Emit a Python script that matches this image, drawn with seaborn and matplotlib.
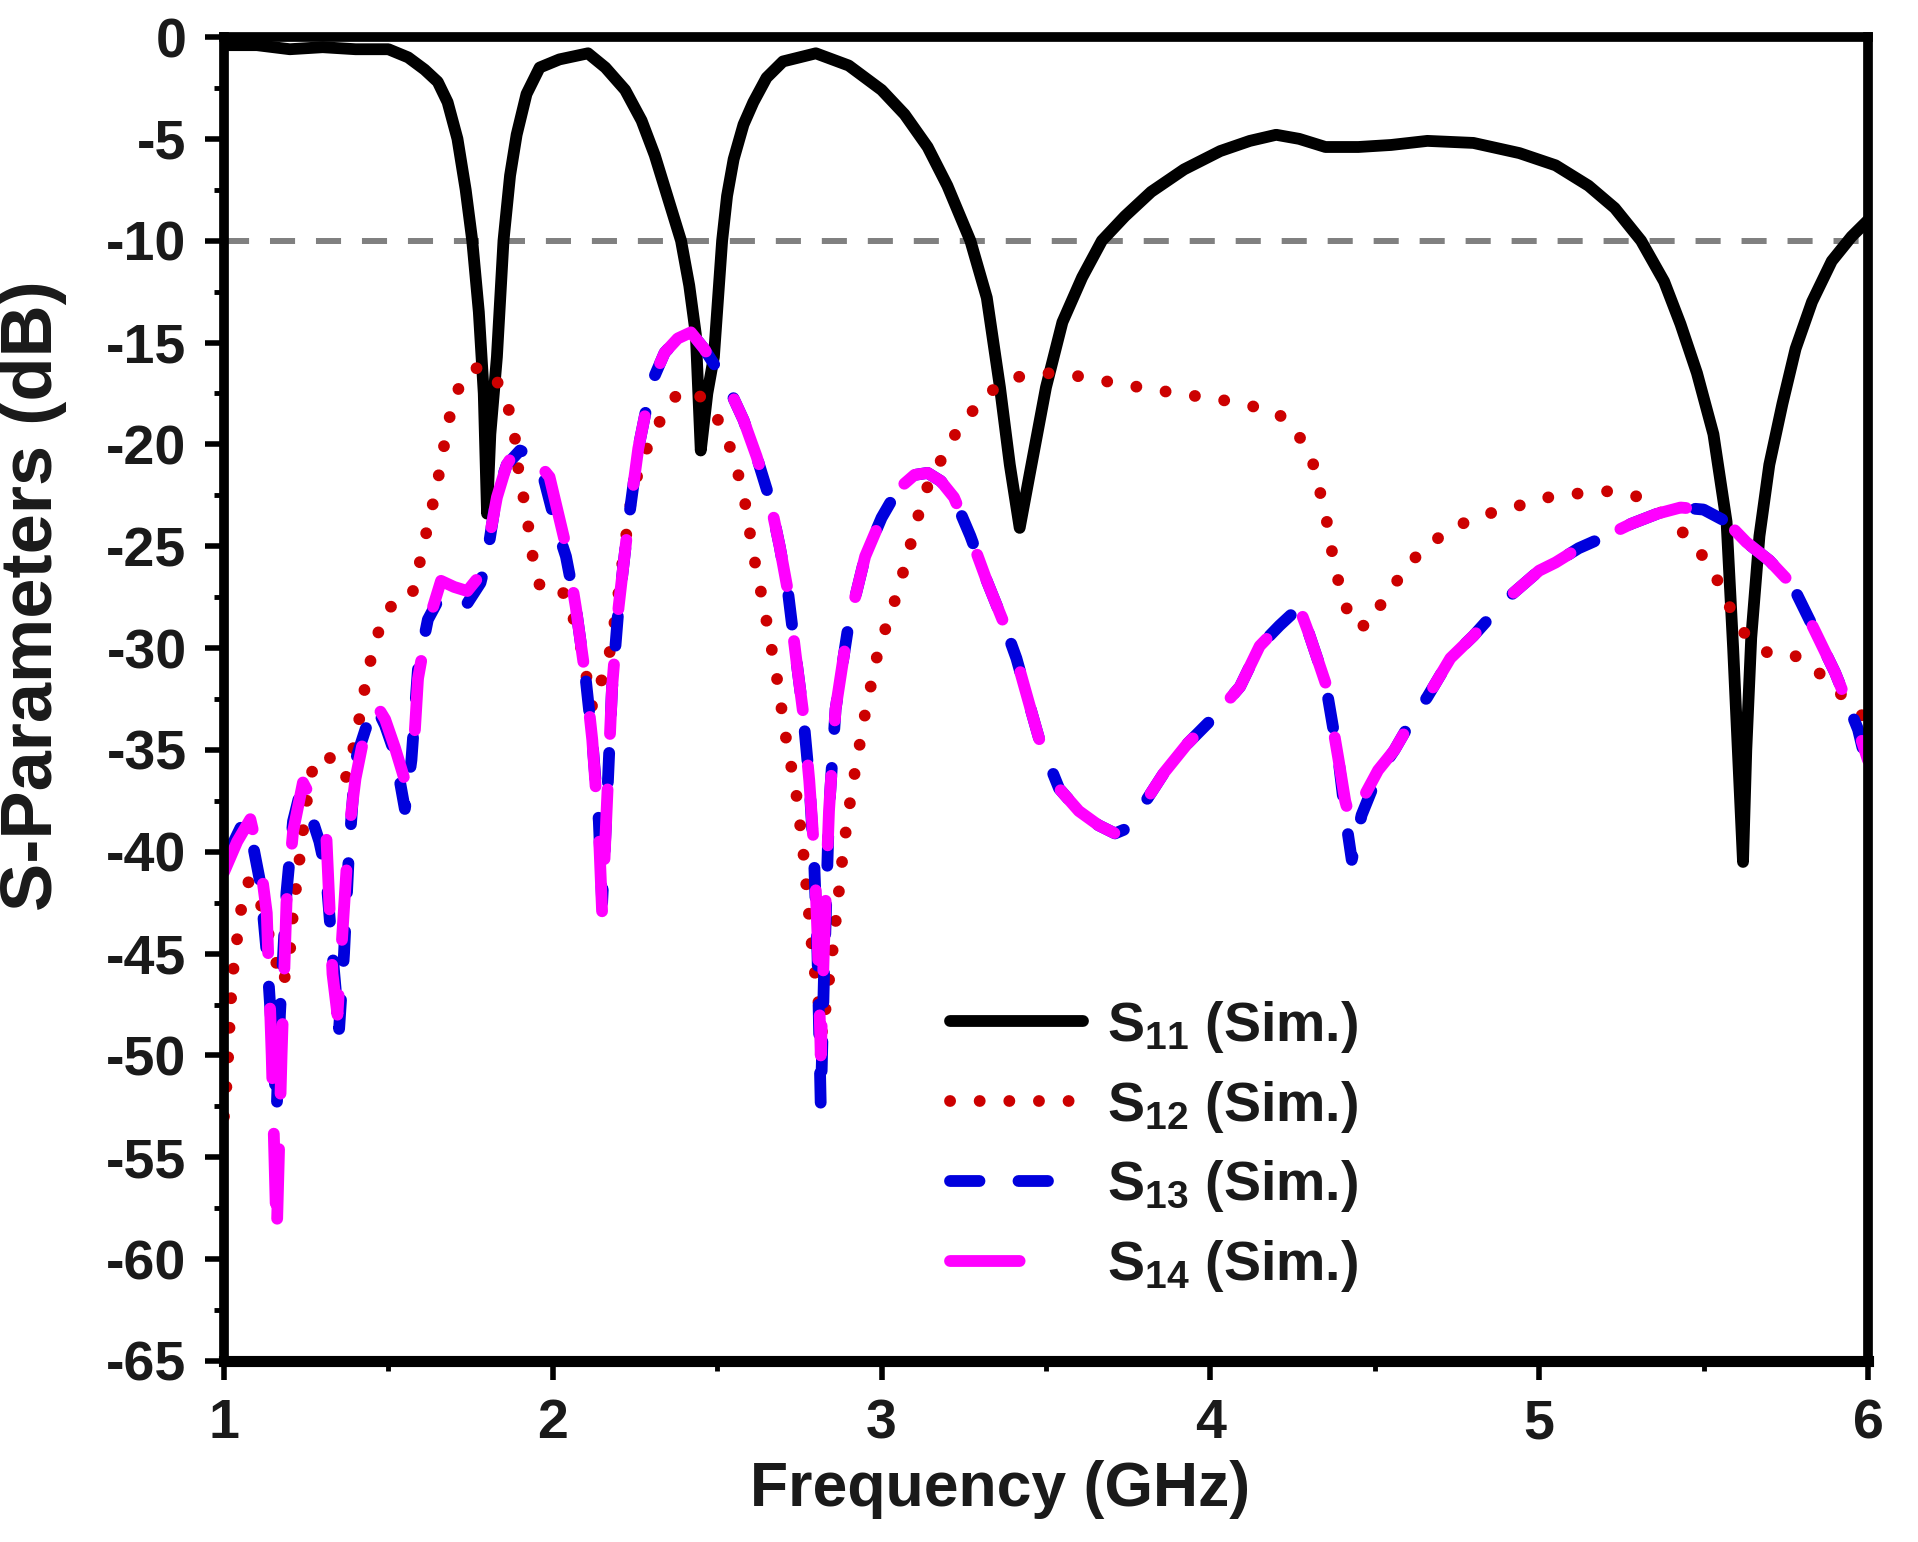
import matplotlib
matplotlib.use("Agg")
import matplotlib.pyplot as plt
import seaborn as sns
from matplotlib.ticker import MultipleLocator

# S11 (black, solid)
f11 = [1.00, 1.10, 1.20, 1.30, 1.40, 1.50, 1.56, 1.61, 1.65, 1.68, 1.71, 1.735, 1.755, 1.775,
       1.79, 1.80, 1.81, 1.83, 1.85, 1.87, 1.89, 1.92, 1.96, 2.02, 2.107, 2.16, 2.22, 2.27, 2.31,
       2.35, 2.39, 2.415, 2.435, 2.45, 2.47, 2.49, 2.515, 2.53, 2.55, 2.58, 2.61, 2.65, 2.70,
       2.80, 2.90, 3.00, 3.07, 3.14, 3.20, 3.27, 3.32, 3.36, 3.39, 3.42, 3.45, 3.50, 3.55,
       3.61, 3.67, 3.74, 3.82, 3.92, 4.03, 4.12, 4.20, 4.27, 4.35, 4.45, 4.55, 4.66, 4.80,
       4.94, 5.05, 5.15, 5.23, 5.31, 5.38, 5.43, 5.48, 5.53, 5.57, 5.59, 5.61, 5.62, 5.63,
       5.645, 5.67, 5.70, 5.74, 5.78, 5.83, 5.89, 5.95, 6.00]
s11 = [-0.4, -0.4, -0.6, -0.5, -0.6, -0.6, -1.0, -1.6, -2.2, -3.2, -5.0, -7.5, -10.0, -13.5,
       -17.5, -23.4, -19.5, -15.7, -10.0, -6.8, -4.8, -2.8, -1.5, -1.1, -0.8, -1.5, -2.6, -4.1,
       -5.8, -7.9, -10.0, -12.2, -14.6, -20.3, -17.5, -15.7, -10.0, -7.8, -6.0, -4.3, -3.2,
       -2.0, -1.2, -0.8, -1.4, -2.6, -3.8, -5.4, -7.3, -10.0, -12.8, -17.2, -21.0, -24.1,
       -21.5, -17.2, -14.0, -11.8, -10.0, -8.8, -7.6, -6.5, -5.6, -5.1, -4.8, -5.0, -5.4,
       -5.4, -5.3, -5.1, -5.2, -5.7, -6.3, -7.3, -8.4, -10.0, -12.0, -14.1, -16.5, -19.5,
       -23.8, -30.0, -37.0, -40.5, -35.0, -29.5, -24.5, -21.0, -18.0, -15.3, -13.0, -11.0,
       -9.8, -9.0]

# S12 (red, dotted)
f12 = [1.00, 1.01, 1.02, 1.03, 1.05, 1.07, 1.09, 1.12, 1.15, 1.18, 1.20, 1.21, 1.225, 1.24,
       1.26, 1.28, 1.32, 1.34, 1.37, 1.40, 1.43, 1.45, 1.47, 1.50, 1.55, 1.57, 1.59, 1.61,
       1.63, 1.65, 1.68, 1.70, 1.74, 1.78, 1.81, 1.85, 1.88, 1.90, 1.92, 1.93, 1.95, 1.97,
       2.04, 2.08, 2.12, 2.15, 2.17, 2.19, 2.21, 2.24, 2.27, 2.30, 2.34, 2.38, 2.42, 2.46,
       2.49, 2.53, 2.56, 2.585, 2.61, 2.64, 2.68, 2.71, 2.74, 2.76, 2.79, 2.82, 2.85, 2.885,
       2.91, 2.95, 2.99, 3.05, 3.09, 3.13, 3.17, 3.22, 3.27, 3.32, 3.41, 3.50, 3.58, 3.75,
       3.90, 4.03, 4.12, 4.20, 4.26, 4.31, 4.35, 4.38, 4.41, 4.43, 4.485, 4.53, 4.62, 4.70,
       4.80, 4.94, 5.05, 5.21, 5.29, 5.36, 5.43, 5.49, 5.54, 5.58, 5.62, 5.70, 5.78, 5.85,
       5.92, 6.00]
s12 = [-53.0, -51.0, -47.5, -45.5, -43.0, -41.5, -41.5, -43.0, -45.0, -46.5, -45.0, -43.0,
       -41.0, -39.0, -36.5, -35.4, -35.3, -36.2, -36.4, -34.5, -31.8, -30.3, -29.2, -28.0,
       -27.8, -27.5, -26.2, -24.7, -23.3, -21.8, -19.1, -17.7, -16.4, -16.2, -16.3, -17.5,
       -19.0, -21.9, -23.2, -24.7, -26.5, -27.3, -27.3, -29.5, -32.9, -31.5, -30.5, -28.5,
       -26.0, -22.5, -20.8, -19.7, -18.4, -17.5, -17.3, -17.8, -18.4, -19.7, -21.2, -22.9,
       -25.4, -27.8, -31.3, -34.5, -37.1, -39.7, -45.0, -49.0, -45.0, -39.7, -36.9, -33.2,
       -30.1, -27.2, -24.8, -22.4, -21.1, -19.6, -18.5, -17.5, -16.7, -16.5, -16.6, -17.1,
       -17.5, -17.8, -18.1, -18.4, -19.3, -20.8, -23.4, -26.2, -27.8, -28.9, -28.9, -27.5,
       -25.6, -24.5, -23.6, -23.0, -22.5, -22.3, -22.5, -23.2, -24.2, -25.3, -26.6, -28.0,
       -29.2, -30.3, -30.4, -31.2, -32.3, -33.6]

# S13 (blue, dashed)
f13 = [1.00, 1.03, 1.06, 1.08, 1.11, 1.13, 1.15, 1.16, 1.17, 1.19, 1.21, 1.23, 1.26, 1.29,
       1.31, 1.33, 1.35, 1.365, 1.38, 1.40, 1.43, 1.46, 1.49, 1.52, 1.55, 1.57, 1.59, 1.62,
       1.66, 1.70, 1.74, 1.78, 1.80, 1.83, 1.86, 1.90, 1.93, 1.97, 2.01, 2.04, 2.07, 2.10,
       2.12, 2.14, 2.15, 2.165, 2.18, 2.20, 2.23, 2.26, 2.30, 2.34, 2.38, 2.42, 2.46, 2.50,
       2.54, 2.58, 2.62, 2.66, 2.69, 2.715, 2.74, 2.76, 2.78, 2.795, 2.805, 2.815, 2.825,
       2.84, 2.86, 2.90, 2.95, 3.00, 3.05, 3.10, 3.14, 3.18, 3.22, 3.27, 3.32, 3.37, 3.41,
       3.45, 3.48, 3.54, 3.60, 3.66, 3.71, 3.74, 3.78, 3.82, 3.86, 3.93, 4.01, 4.09, 4.15,
       4.21, 4.27, 4.30, 4.35, 4.39, 4.41, 4.43, 4.46, 4.51, 4.56, 4.61, 4.66, 4.73, 4.80,
       4.90, 5.00, 5.05, 5.12, 5.19, 5.28, 5.36, 5.43, 5.50, 5.57, 5.63, 5.70, 5.77, 5.84,
       5.90, 5.97, 6.00]
s13 = [-40.0, -39.5, -38.5, -39.0, -41.5, -45.0, -50.0, -52.8, -48.0, -42.0, -38.5, -37.2,
       -38.0, -39.5, -41.0, -45.0, -48.7, -45.0, -40.0, -35.5, -34.0, -32.8, -33.8, -35.2,
       -37.9, -35.5, -31.0, -28.6, -27.4, -27.8, -27.8, -26.8, -25.5, -22.4, -21.0, -20.3,
       -20.5, -21.5, -24.0, -25.5, -28.0, -31.5, -34.5, -38.5, -42.5, -37.5, -32.0, -28.0,
       -23.8, -20.2, -17.0, -15.5, -14.8, -14.5, -15.3, -16.3, -17.4, -18.8, -20.6, -22.7,
       -25.0, -27.2, -30.5, -33.0, -36.5, -40.5, -45.0, -52.5, -46.0, -38.0, -33.0, -28.8,
       -25.5, -23.6, -22.2, -21.5, -21.4, -21.8, -22.6, -24.5, -26.7, -28.7, -30.5, -32.8,
       -34.5, -36.9, -38.0, -38.7, -39.1, -38.9, -38.1, -37.1, -36.1, -34.7, -33.4, -31.9,
       -29.9, -28.9, -28.0, -29.3, -31.7, -35.5, -38.2, -40.4, -38.2, -36.2, -35.0, -33.6,
       -32.4, -30.5, -29.4, -27.6, -26.2, -25.8, -25.1, -24.6, -23.9, -23.4, -23.1, -23.2,
       -23.8, -24.8, -25.7, -26.9, -29.2, -31.2, -34.0, -36.0]

# S14 (magenta, long dash)
f14 = [1.00, 1.04, 1.08, 1.11, 1.13, 1.145, 1.16, 1.175, 1.19, 1.21, 1.24, 1.27, 1.31, 1.33,
       1.345, 1.36, 1.38, 1.40, 1.43, 1.46, 1.49, 1.52, 1.55, 1.575, 1.59, 1.62, 1.66, 1.70,
       1.74, 1.78, 1.80, 1.83, 1.86, 1.89, 1.92, 1.96, 1.99, 2.04, 2.07, 2.10, 2.12, 2.14,
       2.15, 2.165, 2.18, 2.20, 2.23, 2.26, 2.30, 2.34, 2.38, 2.42, 2.46, 2.50, 2.54, 2.58,
       2.62, 2.66, 2.69, 2.715, 2.74, 2.76, 2.78, 2.795, 2.805, 2.815, 2.825, 2.84, 2.86,
       2.90, 2.95, 3.00, 3.05, 3.10, 3.14, 3.18, 3.22, 3.27, 3.32, 3.37, 3.41, 3.45, 3.48,
       3.54, 3.60, 3.66, 3.71, 3.74, 3.78, 3.82, 3.86, 3.93, 4.01, 4.09, 4.15, 4.21, 4.27,
       4.30, 4.35, 4.39, 4.41, 4.43, 4.46, 4.51, 4.56, 4.61, 4.66, 4.73, 4.80, 4.90, 5.00,
       5.05, 5.12, 5.19, 5.28, 5.36, 5.43, 5.50, 5.57, 5.63, 5.70, 5.77, 5.84, 5.90, 5.97,
       6.00]
s14 = [-41.0, -39.5, -38.4, -40.5, -43.0, -50.0, -59.0, -50.0, -42.5, -39.0, -36.6, -37.5,
       -38.8, -46.0, -48.0, -44.0, -39.0, -36.4, -34.0, -32.7, -33.5, -34.9, -36.5, -35.5,
       -31.5, -28.8, -26.7, -27.0, -27.2, -26.4, -25.2, -22.6, -21.0, -20.2, -20.1, -21.0,
       -21.6, -25.0, -28.0, -31.5, -34.5, -39.0, -43.0, -37.5, -32.0, -28.0, -23.8, -20.2,
       -17.0, -15.5, -14.8, -14.5, -15.3, -16.3, -17.4, -18.8, -20.6, -22.7, -25.0, -27.2,
       -30.5, -33.0, -36.5, -40.0, -44.0, -50.0, -44.5, -38.0, -33.0, -28.8, -25.5, -23.6,
       -22.2, -21.5, -21.4, -21.8, -22.6, -24.5, -26.7, -28.7, -30.5, -32.8, -34.5, -36.9,
       -38.0, -38.7, -39.1, -38.9, -38.1, -37.1, -36.1, -34.7, -33.4, -31.9, -29.9, -28.9,
       -28.0, -29.3, -31.7, -35.5, -37.5, -38.7, -37.5, -36.0, -35.0, -33.6, -32.4, -30.5,
       -29.4, -27.6, -26.2, -25.8, -25.1, -24.6, -23.9, -23.4, -23.1, -23.2, -23.8, -24.8,
       -25.7, -26.9, -29.2, -31.2, -34.0, -35.5]

labels = ["S$_{11}$ (Sim.)", "S$_{12}$ (Sim.)", "S$_{13}$ (Sim.)", "S$_{14}$ (Sim.)"]
ref_level = -10

sns.set_theme(style="ticks")
plt.rcParams['font.family'] = ['Liberation Sans', 'DejaVu Sans']
plt.rcParams['font.weight'] = 'bold'
plt.rcParams['axes.unicode_minus'] = False
plt.rcParams['mathtext.fontset'] = 'custom'
plt.rcParams['mathtext.bf'] = 'Liberation Sans:bold'
plt.rcParams['mathtext.rm'] = 'Liberation Sans:bold'
plt.rcParams['mathtext.default'] = 'bf'

fig = plt.figure(figsize=(19.18, 15.42), dpi=100)
ax = fig.add_axes([0.1168, 0.1174, 0.8571, 0.8586])

ax.axhline(ref_level, color='#808080', lw=4.3, linestyle=(0, (4.2, 3.5)), zorder=1)

lw = 8.5
sns.lineplot(x=f11, y=s11, ax=ax, color='black', lw=lw, label=labels[0],
             estimator=None, sort=False, solid_capstyle='round',
             solid_joinstyle='round', zorder=2)
sns.lineplot(x=f12, y=s12, ax=ax, color='#cc0000', lw=lw, label=labels[1],
             estimator=None, sort=False, linestyle=(0, (0.01, 2.5)),
             dash_capstyle='round', zorder=3)
sns.lineplot(x=f13, y=s13, ax=ax, color='#0000dd', lw=lw, label=labels[2],
             estimator=None, sort=False, linestyle=(0, (2.5, 3.3)),
             dash_capstyle='round', zorder=4)
sns.lineplot(x=f14, y=s14, ax=ax, color='#ff00ff', lw=lw, label=labels[3],
             estimator=None, sort=False, linestyle=(0, (5.9, 4.7)),
             dash_capstyle='round', zorder=5)

ax.set_xlim(1, 6)
ax.set_ylim(-65, 0)
ax.xaxis.set_major_locator(MultipleLocator(1))
ax.xaxis.set_minor_locator(MultipleLocator(0.5))
ax.yaxis.set_major_locator(MultipleLocator(5))
ax.yaxis.set_minor_locator(MultipleLocator(2.5))

for side in ['left', 'right', 'top']:
    ax.spines[side].set_linewidth(7)
ax.spines['bottom'].set_linewidth(8)
for s in ax.spines.values():
    s.set_color('black')
    s.set_zorder(10)

ax.tick_params(axis='both', which='major', direction='out', length=14, width=4,
               labelsize=40, pad=13, colors='black', labelcolor='#1a1a1a')
ax.tick_params(axis='both', which='minor', direction='out', length=7, width=3.5,
               colors='black')
for t in ax.get_xticklabels() + ax.get_yticklabels():
    t.set_fontweight('bold')

ax.set_xlabel('Frequency (GHz)', fontsize=45, fontweight='bold', color='#1a1a1a')
ax.set_ylabel('S-Parameters (dB)', fontsize=52, fontweight='bold', color='#1a1a1a')
ax.xaxis.set_label_coords(0.472, -0.075)
ax.yaxis.set_label_coords(-0.0955, 0.578)

leg = ax.legend(loc='center left', bbox_to_anchor=(0.4416, 0.162), frameon=False,
                fontsize=40, handlelength=2.4, handletextpad=0.43, labelspacing=0.43,
                borderpad=0, borderaxespad=0)
for t in leg.get_texts():
    t.set_fontweight('bold')
    t.set_color('#1a1a1a')
# the long-dash handle shows a single dash in the original legend
leg.get_lines()[3].set_linestyle((0, (5.9, 12)))

fig.savefig('out.png', dpi=100)
